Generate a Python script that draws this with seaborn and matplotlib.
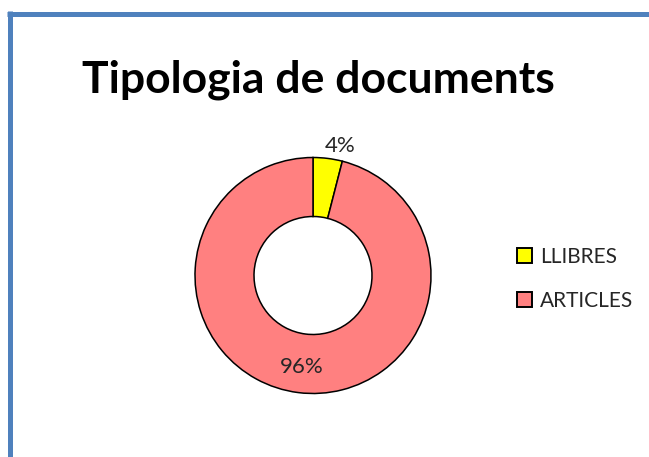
import matplotlib
matplotlib.use("Agg")
import matplotlib.pyplot as plt
from matplotlib.lines import Line2D
from matplotlib.patches import Patch
import numpy as np
import seaborn as sns

categories = ["LLIBRES", "ARTICLES"]
values = [4, 96]
colors = ["#FFFF00", "#FF8080"]
title = "Tipologia de documents"

sns.set_style("white")
plt.rcParams['font.family'] = ['Lato', 'DejaVu Sans']

W, H = 649, 457
fig = plt.figure(figsize=(W / 100, H / 100), dpi=100)
fig.patch.set_facecolor("white")

# frame lines (left and top)
border = "#4F81BD"
fig.add_artist(Line2D([9.8 / W, 9.8 / W], [0, 1 - 11 / H], transform=fig.transFigure,
                      color=border, lw=3.6, solid_capstyle="butt"))
fig.add_artist(Line2D([7.3 / W, 1], [1 - 13.5 / H, 1 - 13.5 / H], transform=fig.transFigure,
                      color=border, lw=3.6, solid_capstyle="butt"))

fig.text(318 / W, 1 - 92 / H, title, ha="center", va="baseline",
         fontsize=32, fontweight="bold", color="black")

cx, cy, r = 313, 275.5, 118
ax = fig.add_axes([(cx - r) / W, (H - cy - r) / H, 2 * r / W, 2 * r / H])
wedges, texts, autotexts = ax.pie(
    values, colors=colors, startangle=90, counterclock=False, radius=1,
    wedgeprops=dict(width=0.5, edgecolor="black", linewidth=1.1),
    autopct=lambda p: f"{p:.0f}%", pctdistance=0.78,
    textprops=dict(fontsize=16, color="#262626"))
ax.set_xlim(-1, 1)
ax.set_ylim(-1, 1)
ax.set_aspect("equal")
ax.axis("off")

# move small slice label outside
w0 = wedges[0]
ang = np.deg2rad((w0.theta1 + w0.theta2) / 2)
autotexts[0].set_position((1.11 * np.cos(ang) + 0.09, 1.11 * np.sin(ang)))

handles = [Patch(facecolor=c, edgecolor="black", linewidth=1.4) for c in colors]
leg = fig.legend(handles, categories, loc="center left",
                 bbox_to_anchor=(498 / W, 1 - 279 / H), frameon=False,
                 fontsize=15, handlelength=0.75, handleheight=0.75,
                 handletextpad=0.35, labelspacing=1.15)
for t in leg.get_texts():
    t.set_color("#262626")

fig.savefig("out.png", dpi=100)
